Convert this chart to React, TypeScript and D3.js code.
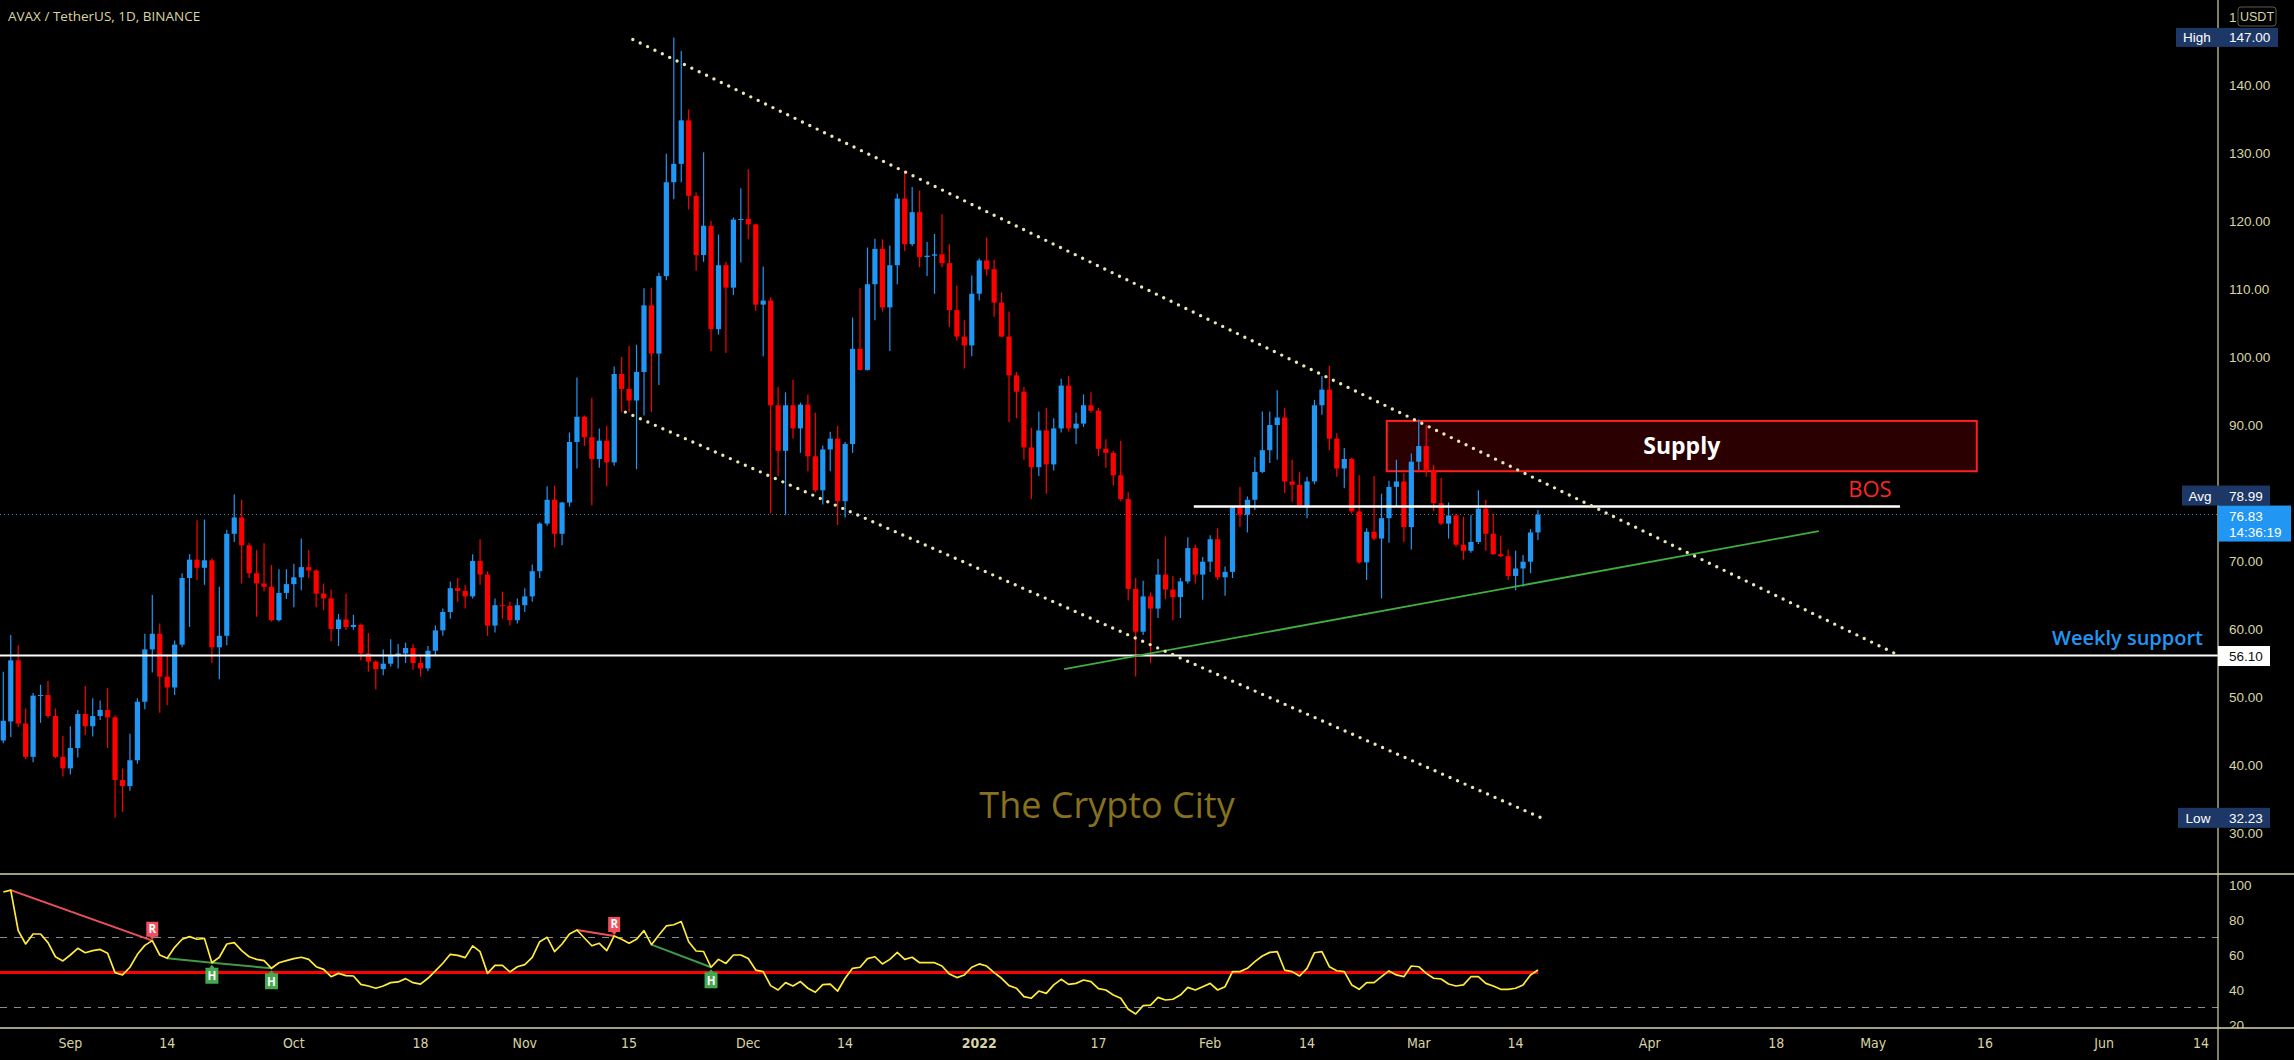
import * as d3 from "d3"

const W = 2294
const H = 1060

// first candle of the series
const startDay = new Date(Date.UTC(2021, 7, 23))
const endDay = new Date(Date.UTC(2022, 5, 14))

// daily candles, AVAX/USDT
const open = [
  43.6, 46.4, 55.4, 46.1, 41.2, 50.2, 50.3, 47.2, 41.2, 39.5, 42.5, 47.5, 45.7, 47.2, 48.1, 47.0, 37.8, 36.9, 40.7, 49.3,
  57.0, 59.3, 53.0, 51.4, 57.7, 67.5, 70.2, 69.0, 70.1, 57.3, 59.0, 74.0, 76.4, 72.3, 68.2, 66.7, 66.2, 61.3, 65.3, 66.6,
  67.6, 69.1, 68.6, 65.2, 64.5, 60.0, 61.4, 60.3, 60.6, 56.4, 55.2, 54.1, 54.9, 56.0, 56.4, 57.2, 55.0, 54.2, 56.8, 59.8,
  62.5, 66.0, 65.6, 64.8, 70.0, 68.0, 60.5, 63.5, 63.4, 61.3, 63.5, 64.8, 68.5, 75.5, 79.0, 74.0, 78.6, 87.5, 91.2, 88.2,
  85.0, 87.7, 84.5, 97.5, 95.3, 93.6, 97.8, 107.6, 100.5, 111.9, 125.7, 128.4, 134.8, 123.7, 115.0, 119.3, 104.1, 113.5, 110.2, 120.2,
  120.3, 119.5, 107.7, 108.3, 92.9, 86.2, 92.9, 89.5, 93.0, 85.4, 80.4, 86.4, 88.0, 78.8, 87.2, 101.2, 98.1, 110.7, 115.9, 107.3,
  113.5, 123.3, 116.6, 121.3, 114.7, 114.9, 115.1, 113.8, 106.9, 103.0, 101.7, 109.3, 114.2, 112.9, 108.0, 103.0, 97.3, 94.9, 86.7, 83.8,
  89.2, 84.2, 89.5, 95.8, 89.5, 90.2, 92.9, 92.1, 86.5, 85.9, 82.6, 79.1, 65.9, 59.6, 64.8, 63.0, 68.0, 65.8, 64.7, 67.0,
  71.9, 68.0, 69.9, 73.2, 67.6, 68.4, 77.9, 76.8, 79.0, 83.1, 86.3, 90.0, 91.1, 81.7, 81.2, 77.9, 81.7, 92.9, 95.2, 88.0,
  83.6, 85.0, 77.3, 69.8, 74.3, 73.3, 76.3, 80.9, 81.7, 75.0, 84.6, 86.9, 83.4, 78.5, 75.5, 76.7, 72.4, 71.5, 72.8, 77.7,
  74.0, 71.0, 70.7, 67.8, 68.9, 69.9, 74.2,
]
const high = [
  53.7, 59.1, 57.6, 48.3, 50.6, 51.8, 52.4, 48.3, 44.3, 45.7, 48.1, 51.6, 49.8, 49.5, 51.3, 47.3, 39.5, 44.6, 49.8, 59.3,
  65.0, 60.8, 56.3, 58.3, 68.2, 71.0, 76.0, 76.1, 70.4, 66.2, 74.6, 79.8, 79.0, 72.7, 71.6, 72.6, 69.4, 68.8, 68.8, 69.6,
  73.3, 71.6, 68.8, 66.7, 65.8, 62.2, 65.2, 62.1, 60.8, 59.4, 55.4, 57.0, 58.5, 57.8, 58.0, 57.8, 56.0, 57.5, 60.5, 63.0,
  67.0, 67.5, 66.5, 71.0, 73.2, 68.5, 64.5, 65.5, 64.0, 64.5, 66.0, 69.5, 75.7, 81.0, 81.1, 78.7, 88.9, 97.0, 91.4, 94.0,
  89.5, 89.9, 98.6, 100.0, 101.6, 101.8, 110.1, 110.2, 112.4, 129.9, 147.0, 145.0, 136.4, 124.2, 130.1, 120.0, 118.0, 114.0, 120.5, 124.8,
  127.6, 119.6, 113.3, 108.8, 95.6, 94.8, 96.6, 93.3, 94.5, 91.8, 87.0, 89.0, 89.9, 87.5, 105.8, 110.1, 116.1, 117.4, 117.3, 116.4,
  124.0, 127.4, 125.0, 124.5, 116.9, 118.1, 121.0, 116.6, 110.5, 105.4, 112.0, 114.5, 117.6, 114.3, 109.5, 106.7, 97.8, 95.6, 89.6, 92.0,
  92.5, 91.0, 96.8, 97.2, 91.8, 94.5, 94.8, 92.5, 87.9, 86.2, 87.7, 80.1, 67.5, 67.1, 65.4, 70.3, 73.6, 67.8, 67.5, 73.5,
  72.4, 70.6, 73.8, 74.8, 69.2, 78.1, 80.9, 79.5, 85.3, 92.0, 92.0, 95.1, 92.5, 84.9, 83.1, 82.4, 93.7, 97.2, 98.7, 88.8,
  86.6, 85.2, 82.6, 74.8, 82.5, 79.9, 81.8, 84.9, 82.9, 85.8, 90.8, 90.0, 84.1, 82.2, 78.6, 76.9, 76.5, 76.8, 80.4, 79.0,
  76.9, 73.7, 71.7, 71.5, 70.9, 74.7, 77.5,
]
const low = [
  43.2, 44.1, 45.6, 40.9, 40.4, 46.2, 46.9, 41.0, 38.3, 38.6, 41.1, 44.4, 44.2, 46.6, 42.5, 32.23, 33.1, 36.2, 40.2, 48.2,
  53.6, 47.7, 48.8, 50.3, 57.3, 60.3, 67.2, 66.5, 55.0, 52.6, 57.6, 72.8, 66.7, 67.5, 61.8, 65.5, 61.1, 61.1, 64.4, 63.2,
  65.7, 67.5, 63.2, 62.8, 58.2, 57.5, 59.9, 59.9, 55.4, 53.7, 51.1, 53.2, 54.5, 54.2, 55.0, 54.0, 53.0, 53.8, 56.0, 59.0,
  61.5, 64.0, 63.0, 64.5, 66.5, 59.0, 59.5, 61.5, 60.5, 60.8, 62.5, 64.0, 67.5, 75.2, 72.0, 72.3, 78.0, 83.6, 86.9, 78.2,
  83.7, 81.0, 84.0, 91.9, 91.9, 83.5, 91.4, 91.9, 95.9, 111.3, 123.2, 125.7, 121.7, 112.7, 114.0, 100.9, 103.3, 100.6, 109.1, 113.9,
  117.3, 106.8, 100.1, 77.0, 82.5, 76.8, 88.0, 85.9, 83.2, 80.1, 78.3, 83.2, 75.3, 76.4, 85.9, 98.0, 98.0, 105.4, 106.7, 100.9,
  110.7, 115.6, 116.3, 113.2, 111.9, 109.3, 113.2, 104.4, 102.4, 98.3, 100.1, 108.3, 112.0, 105.9, 102.9, 90.4, 91.0, 84.9, 79.1, 82.5,
  79.9, 83.3, 88.9, 89.0, 87.2, 89.7, 91.8, 85.4, 83.7, 81.1, 78.8, 64.2, 53.0, 59.1, 55.0, 61.6, 64.4, 61.3, 61.6, 66.7,
  66.7, 64.3, 68.4, 67.2, 64.9, 67.5, 75.0, 74.2, 77.5, 82.9, 84.4, 84.9, 80.0, 78.7, 77.8, 76.3, 81.3, 91.5, 86.3, 82.4,
  80.7, 77.0, 69.6, 67.2, 73.1, 64.5, 72.7, 78.0, 72.8, 71.7, 83.4, 82.4, 77.3, 75.3, 73.3, 72.1, 70.2, 71.2, 72.5, 71.5,
  70.9, 70.6, 67.2, 65.7, 66.2, 68.2, 73.1,
]
const close = [
  46.5, 55.4, 46.1, 41.2, 50.2, 50.3, 47.2, 41.2, 39.5, 42.5, 47.5, 45.7, 47.2, 48.1, 47.0, 37.8, 36.9, 40.7, 49.3, 57.0,
  59.3, 53.0, 51.4, 57.7, 67.5, 70.2, 69.0, 70.1, 57.3, 59.0, 74.0, 76.4, 72.3, 68.2, 66.7, 66.2, 61.3, 65.3, 66.6, 67.6,
  69.1, 68.6, 65.2, 64.5, 60.0, 61.4, 60.3, 60.6, 56.4, 55.2, 54.1, 54.9, 56.0, 56.4, 57.2, 55.0, 54.2, 56.8, 59.8, 62.5,
  66.0, 65.6, 64.8, 70.0, 68.0, 60.5, 63.5, 63.4, 61.3, 63.5, 64.8, 68.5, 75.5, 79.0, 74.0, 78.6, 87.5, 91.2, 88.2, 85.0,
  87.7, 84.5, 97.5, 95.3, 93.6, 97.8, 107.6, 100.5, 111.9, 125.7, 128.4, 134.8, 123.7, 115.0, 119.3, 104.1, 113.5, 110.2, 120.2, 120.3,
  119.5, 107.7, 108.3, 92.9, 86.2, 92.9, 89.5, 93.0, 85.4, 80.4, 86.4, 88.0, 78.8, 87.2, 101.2, 98.1, 110.7, 115.9, 107.3, 113.5,
  123.3, 116.6, 121.3, 114.7, 114.9, 115.1, 113.8, 106.9, 103.0, 101.7, 109.3, 114.2, 112.9, 108.0, 103.0, 97.3, 94.9, 86.7, 83.8, 89.2,
  84.2, 89.5, 95.8, 89.5, 90.2, 92.9, 92.1, 86.5, 85.9, 82.6, 79.1, 65.9, 59.6, 64.8, 63.0, 68.0, 65.8, 64.7, 67.0, 71.9,
  68.0, 69.9, 73.2, 67.6, 68.4, 77.9, 76.8, 79.0, 83.1, 86.3, 90.0, 91.1, 81.7, 81.2, 77.9, 81.7, 92.9, 95.2, 88.0, 83.6,
  85.0, 77.3, 69.8, 74.3, 73.3, 76.3, 80.9, 81.7, 75.0, 84.6, 86.9, 83.4, 78.5, 75.5, 76.7, 72.4, 71.5, 72.8, 77.7, 74.0,
  71.0, 70.7, 67.8, 68.9, 69.9, 74.2, 76.83,
]

// RSI(14)
const rsi = [
  96.0, 97.1, 73.9, 66.3, 72.0, 72.0, 67.1, 59.0, 56.6, 60.0, 63.8, 61.3, 62.5, 63.2, 61.0, 49.9, 48.6, 53.0, 60.4, 65.5,
  68.2, 60.0, 58.1, 64.4, 69.0, 70.5, 69.0, 69.5, 55.6, 58.7, 66.3, 67.1, 62.5, 59.0, 57.5, 56.8, 52.4, 55.6, 56.8, 57.9,
  58.7, 57.5, 53.3, 51.8, 47.6, 49.5, 48.2, 48.0, 43.2, 42.3, 41.0, 42.3, 44.2, 44.6, 46.5, 44.2, 43.4, 46.7, 50.9, 55.3,
  60.4, 59.8, 58.5, 65.2, 61.9, 49.5, 54.1, 54.1, 50.3, 53.3, 54.5, 58.7, 67.6, 70.1, 61.9, 66.3, 72.0, 74.3, 69.7, 65.3,
  66.7, 62.5, 70.9, 69.0, 66.7, 69.0, 73.9, 65.9, 71.4, 76.6, 77.3, 79.1, 67.6, 62.3, 62.0, 53.0, 57.5, 55.2, 60.0, 60.0,
  58.0, 51.4, 50.5, 42.5, 40.0, 44.2, 42.3, 44.8, 41.0, 38.7, 43.1, 43.4, 39.4, 46.7, 52.4, 53.0, 57.9, 59.0, 54.9, 57.5,
  61.5, 57.5, 58.7, 55.6, 55.6, 55.6, 53.7, 49.1, 47.1, 48.6, 53.0, 54.9, 53.7, 49.9, 46.7, 42.5, 41.0, 36.2, 35.3, 39.4,
  38.1, 42.9, 46.1, 43.2, 43.8, 45.7, 44.8, 40.8, 40.0, 37.1, 35.3, 29.0, 26.3, 31.1, 31.4, 35.8, 34.3, 34.7, 37.1, 41.5,
  40.0, 41.9, 43.8, 40.0, 41.9, 50.5, 50.5, 52.4, 56.2, 59.4, 61.5, 61.9, 51.4, 50.5, 48.0, 52.4, 61.3, 61.9, 53.3, 51.0,
  50.5, 42.9, 40.4, 44.2, 44.2, 47.6, 50.9, 48.6, 47.6, 53.7, 53.3, 49.5, 46.7, 46.3, 43.4, 42.3, 42.9, 47.6, 47.6, 43.8,
  42.3, 40.4, 40.4, 41.0, 42.9, 48.6, 51.4,
]

// divergence pivots on the RSI (candle index)
const bearishPivots = [[1, 20], [77, 82]]
const hiddenBullPivots = [[22, 28], [28, 36], [87, 95]]

const priceTicks = [30, 40, 50, 60, 70, 80, 90, 100, 110, 120, 130, 140, 150]
const rsiTicks = [20, 40, 60, 80, 100]
const timeTicks: [string, string, boolean][] = [
  ["2021-09-01", "Sep", false], ["2021-09-14", "14", false], ["2021-10-01", "Oct", false], ["2021-10-18", "18", false],
  ["2021-11-01", "Nov", false], ["2021-11-15", "15", false], ["2021-12-01", "Dec", false], ["2021-12-14", "14", false],
  ["2022-01-01", "2022", true], ["2022-01-17", "17", false], ["2022-02-01", "Feb", false], ["2022-02-14", "14", false],
  ["2022-03-01", "Mar", false], ["2022-03-14", "14", false], ["2022-04-01", "Apr", false], ["2022-04-18", "18", false],
  ["2022-05-01", "May", false], ["2022-05-16", "16", false], ["2022-06-01", "Jun", false], ["2022-06-14", "14", false],
]

// drawings: [day offset from first candle, price]
const upperChannel = [[84.5, 146.7], [254.3, 56.2]]
const lowerChannel = [[83.5, 91.9], [206.7, 32.1]]
const risingSupport = [[142.4, 54.1], [243.7, 74.4]]
const bosLine = [[159.8, 78.0], [254.6, 78.0]]
const supplyZone = { from: 185.7, to: 264.9, top: 90.6, bottom: 83.2 }
const weeklySupport = 56.1
const lastPrice = 76.83
const avgPrice = 78.99
const highPrice = 147.0
const lowPrice = 32.23

const AXIS_X = 2218
const PANE_SPLIT = 874
const TIME_AXIS = 1028
const CREAM = "#d8d4a6"
const UP = "#2196f3"
const DOWN = "#ff0000"
const DOTS = "#ece6ae"

export default function App() {
  const x = d3.scaleUtc().domain([startDay, endDay]).range([3.3, 2201])
  const y = d3.scaleLinear().domain([30, 150]).range([833, 17])
  const yR = d3.scaleLinear().domain([20, 100]).range([1025, 885])
  const dayX = (d: number) => x(d3.utcMinute.offset(startDay, Math.round(d * 1440)))
  const dates = close.map((_, i) => d3.utcDay.offset(startDay, i))
  const fmt = d3.format(".2f")

  const rsiLine = d3
    .line<number>()
    .x((_, i) => x(dates[i]))
    .y((d) => yR(d))(rsi)

  const seg = (pts: number[][]) => ({ x1: dayX(pts[0][0]), y1: y(pts[0][1]), x2: dayX(pts[1][0]), y2: y(pts[1][1]) })
  const up = seg(upperChannel)
  const lo = seg(lowerChannel)
  const gr = seg(risingSupport)
  const bos = seg(bosLine)

  const curY = y(lastPrice)

  return (
    <svg width={W} height={H} style={{ display: "block", background: "#000" }} fontFamily="'Open Sans', 'Liberation Sans', sans-serif">
      <style>{`body{margin:0;background:#000}`}</style>
      <defs>
        <clipPath id="main-clip">
          <rect x={0} y={0} width={AXIS_X} height={PANE_SPLIT} />
        </clipPath>
        <clipPath id="rsi-clip">
          <rect x={0} y={PANE_SPLIT + 1} width={AXIS_X} height={TIME_AXIS - PANE_SPLIT - 2} />
        </clipPath>
        <clipPath id="rsi-axis-clip">
          <rect x={AXIS_X} y={PANE_SPLIT + 1} width={W - AXIS_X} height={TIME_AXIS - PANE_SPLIT - 1} />
        </clipPath>
        <clipPath id="top-tick-clip">
          <rect x={AXIS_X} y={0} width={2237 - AXIS_X} height={40} />
        </clipPath>
      </defs>
      <rect width={W} height={H} fill="#000" />

      {/* main pane */}
      <g clipPath="url(#main-clip)">
        <text x={1107} y={818} textAnchor="middle" fontSize={36} fill="#86711f">
          The Crypto City
        </text>

        <line x1={0} x2={AXIS_X} y1={curY} y2={curY} stroke="#4f87b8" strokeWidth={1} strokeDasharray="1 3" />

        <rect
          x={dayX(supplyZone.from)}
          y={y(supplyZone.top)}
          width={dayX(supplyZone.to) - dayX(supplyZone.from)}
          height={y(supplyZone.bottom) - y(supplyZone.top)}
          fill="#2a0000"
          stroke="#ff1f1f"
          strokeWidth={2}
        />

        {close.map((c, i) => {
          const o = open[i]
          const cx = x(dates[i])
          const col = c >= o ? UP : DOWN
          const top = y(Math.max(o, c))
          const h = Math.max(1, Math.abs(y(o) - y(c)))
          return (
            <g key={i}>
              <line x1={cx} x2={cx} y1={y(high[i])} y2={y(low[i])} stroke={col} strokeWidth={1.2} />
              <rect x={cx - 2.6} y={top} width={5.2} height={h} fill={col} />
            </g>
          )
        })}

        <line x1={0} x2={AXIS_X} y1={y(weeklySupport)} y2={y(weeklySupport)} stroke="#fff" strokeWidth={2} />
        <line {...bos} stroke="#fff" strokeWidth={2.5} />
        <line {...gr} stroke="#3fae3f" strokeWidth={1.8} />
        <line {...up} stroke={DOTS} strokeWidth={3.4} strokeLinecap="round" strokeDasharray="0 8.2" />
        <line {...lo} stroke={DOTS} strokeWidth={3.4} strokeLinecap="round" strokeDasharray="0 8.2" />

        <text
          x={(dayX(supplyZone.from) + dayX(supplyZone.to)) / 2}
          y={(y(supplyZone.top) + y(supplyZone.bottom)) / 2 + 8}
          textAnchor="middle"
          fontSize={23}
          fontWeight={700}
          fill="#fff"
        >
          Supply
        </text>
        <text x={1870} y={bos.y1 - 10} textAnchor="middle" fontSize={22} fill="#ff2424">
          BOS
        </text>
        <text x={2203} y={y(weeklySupport) - 11} textAnchor="end" fontSize={20} fontWeight={600} fill="#2196f3">
          Weekly support
        </text>
      </g>

      <text x={8} y={21} fontSize={13.5} fill={CREAM}>
        AVAX / TetherUS, 1D, BINANCE
      </text>

      {/* RSI pane */}
      <g clipPath="url(#rsi-clip)">
        <line x1={0} x2={AXIS_X} y1={yR(70)} y2={yR(70)} stroke="#8a8d96" strokeDasharray="7 7" strokeWidth={1} />
        <line x1={0} x2={AXIS_X} y1={yR(30)} y2={yR(30)} stroke="#8a8d96" strokeDasharray="7 7" strokeWidth={1} />
        <line x1={0} x2={x(dates[dates.length - 1])} y1={yR(50)} y2={yR(50)} stroke="#ff0000" strokeWidth={3} />
        {bearishPivots.map(([a, b], k) => (
          <line key={"b" + k} x1={x(dates[a])} y1={yR(rsi[a])} x2={x(dates[b])} y2={yR(rsi[b])} stroke="#f0505c" strokeWidth={2} />
        ))}
        {hiddenBullPivots.map(([a, b], k) => (
          <line key={"h" + k} x1={x(dates[a])} y1={yR(rsi[a])} x2={x(dates[b])} y2={yR(rsi[b])} stroke="#3f9a4a" strokeWidth={2} />
        ))}
        <path d={rsiLine ?? ""} fill="none" stroke="#ffeb3b" strokeWidth={1.7} strokeLinejoin="round" />
        {bearishPivots.map(([, b], k) => {
          const px = x(dates[b])
          const py = yR(rsi[b])
          return (
            <g key={"bl" + k}>
              <path d={`M${px - 6},${py - 19} h12 v15 h-3.5 l-2.5,3 l-2.5,-3 h-3.5 z`} fill="#f0505c" />
              <text x={px} y={py - 7.5} textAnchor="middle" fontSize={11.5} fontWeight={700} fill="#fff">
                R
              </text>
            </g>
          )
        })}
        {hiddenBullPivots.map(([, b], k) => {
          const px = x(dates[b])
          const py = yR(rsi[b])
          return (
            <g key={"hl" + k}>
              <path d={`M${px - 6.5},${py + 21} v-16 h4 l2.5,-3 l2.5,3 h4 v16 z`} fill="#43a84f" />
              <text x={px} y={py + 17.5} textAnchor="middle" fontSize={11.5} fontWeight={700} fill="#fff">
                H
              </text>
            </g>
          )
        })}
      </g>

      {/* frame */}
      <line x1={0} x2={W} y1={PANE_SPLIT} y2={PANE_SPLIT} stroke={CREAM} strokeWidth={1.5} />
      <line x1={0} x2={W} y1={TIME_AXIS} y2={TIME_AXIS} stroke={CREAM} strokeWidth={1.5} />
      <line x1={AXIS_X} x2={AXIS_X} y1={0} y2={H} stroke={CREAM} strokeWidth={1.2} />

      {/* price axis */}
      {priceTicks.map((t) => (
        <text
          key={t}
          x={2229}
          y={y(t) + 5}
          fontSize={13.5}
          fill={CREAM}
          fontFamily="'Liberation Sans', sans-serif"
          clipPath={t === 150 ? "url(#top-tick-clip)" : undefined}
        >
          {fmt(t)}
        </text>
      ))}
      <rect x={2238} y={7} width={38} height={19} rx={3} fill="#000" stroke="#5e5b45" />
      <text x={2257} y={21} textAnchor="middle" fontSize={12.5} fill={CREAM} fontFamily="'Liberation Sans', sans-serif">
        USDT
      </text>

      {/* rsi axis */}
      <g clipPath="url(#rsi-axis-clip)">
        {rsiTicks.map((t) => (
          <text key={t} x={2229} y={yR(t) + 5} fontSize={13.5} fill={CREAM} fontFamily="'Liberation Sans', sans-serif">
            {t}
          </text>
        ))}
      </g>

      {/* price labels */}
      <g fontFamily="'Liberation Sans', sans-serif" fontSize={13.5}>
        <rect x={2176} y={y(highPrice) - 9.5} width={42} height={19} fill="#1d3866" />
        <rect x={AXIS_X} y={y(highPrice) - 9.5} width={60} height={19} fill="#1d3866" />
        <text x={2197} y={y(highPrice) + 5} textAnchor="middle" fill="#fff">High</text>
        <text x={2229} y={y(highPrice) + 5} fill="#fff">{fmt(highPrice)}</text>

        <rect x={2182} y={curY - 29} width={36} height={20} fill="#1d3866" />
        <rect x={AXIS_X} y={curY - 29} width={52} height={20} fill="#1d3866" />
        <text x={2200} y={curY - 14} textAnchor="middle" fill="#fff">Avg</text>
        <text x={2229} y={curY - 14} fill="#fff">{fmt(avgPrice)}</text>

        <rect x={AXIS_X} y={curY - 9} width={73} height={36} fill="#2196f3" />
        <text x={2229} y={curY + 6} fill="#fff">{fmt(lastPrice)}</text>
        <text x={2229} y={curY + 22} fill="#fff">14:36:19</text>

        <rect x={AXIS_X} y={y(weeklySupport) - 9.5} width={52} height={20} fill="#fff" />
        <text x={2229} y={y(weeklySupport) + 5.5} fill="#111">{fmt(weeklySupport)}</text>

        <rect x={2178} y={y(lowPrice) - 10} width={40} height={20} fill="#1d3866" />
        <rect x={AXIS_X} y={y(lowPrice) - 10} width={52} height={20} fill="#1d3866" />
        <text x={2198} y={y(lowPrice) + 5} textAnchor="middle" fill="#fff">Low</text>
        <text x={2229} y={y(lowPrice) + 5} fill="#fff">{fmt(lowPrice)}</text>
      </g>

      {/* time axis */}
      <g fontFamily="'Liberation Sans Narrow', 'DejaVu Sans Condensed', sans-serif" fontSize={14} fill={CREAM}>
        {timeTicks.map(([d, label, bold]) => (
          <text key={d} x={x(new Date(d + "T00:00:00Z"))} y={1048} textAnchor="middle" fontWeight={bold ? 700 : 400}>
            {label}
          </text>
        ))}
      </g>
    </svg>
  )
}
